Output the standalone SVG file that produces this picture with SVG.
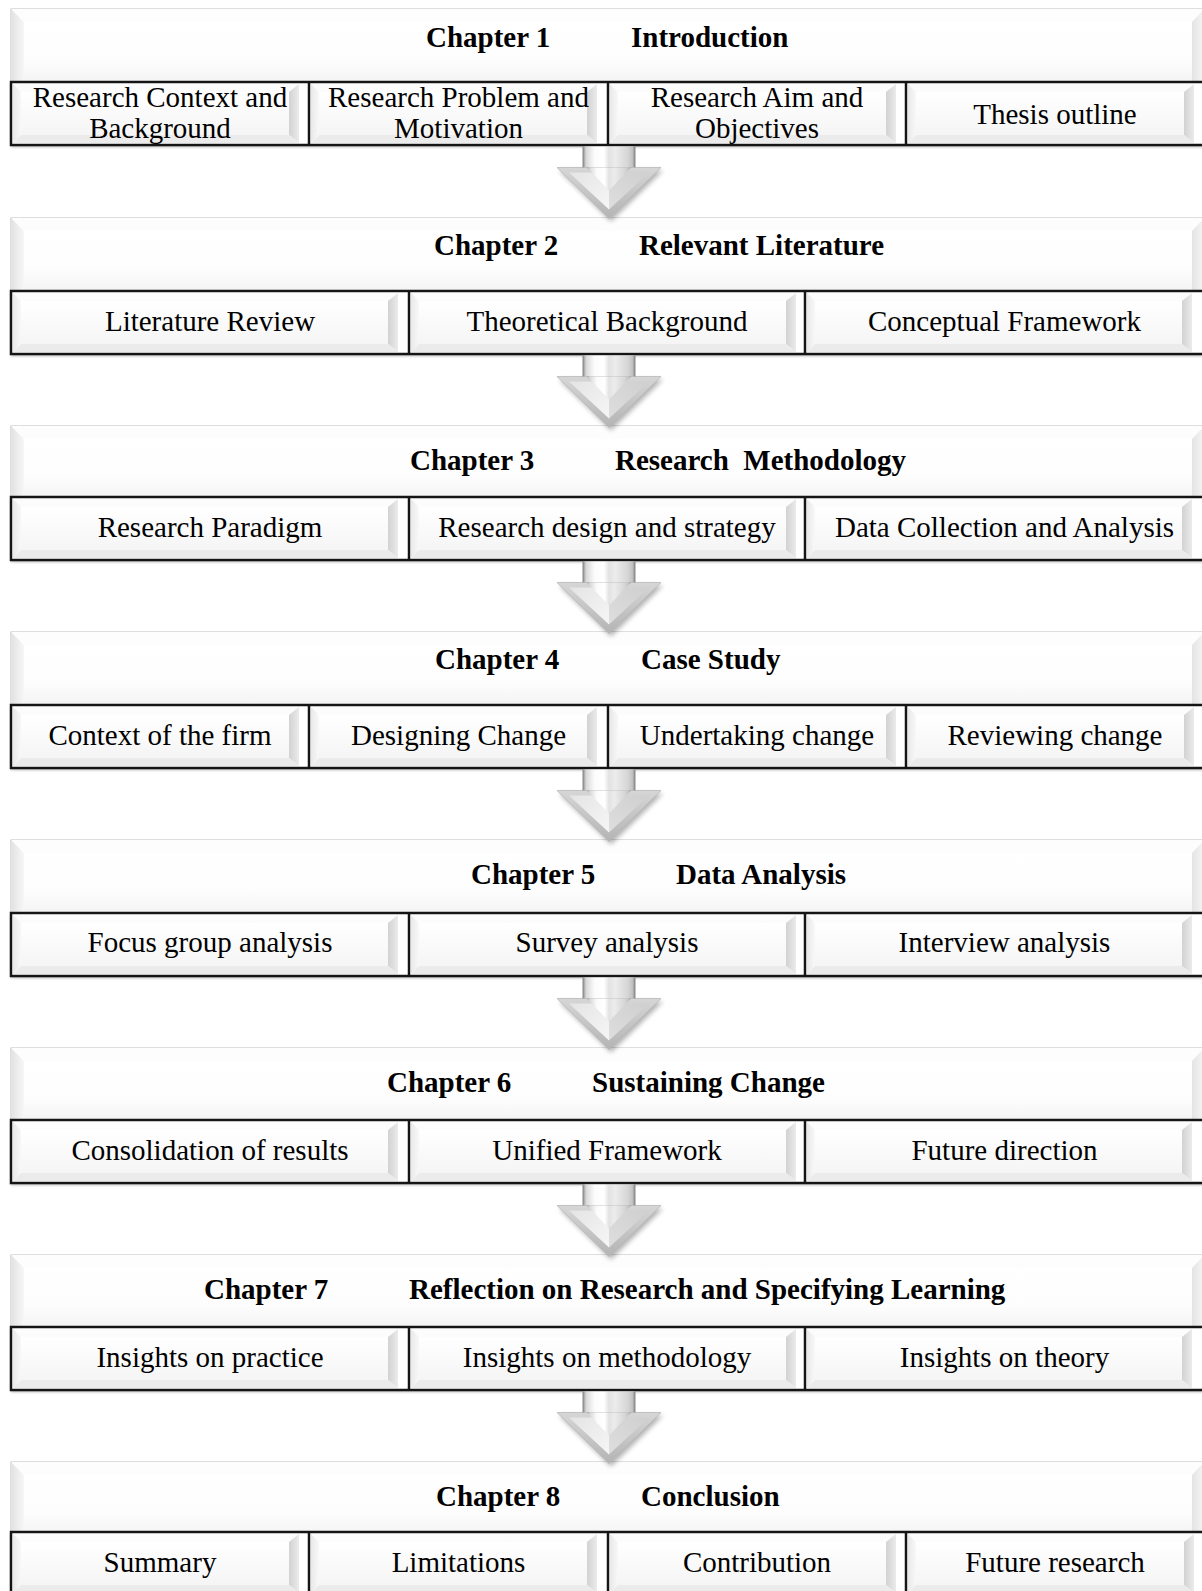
<svg xmlns="http://www.w3.org/2000/svg" xmlns:xlink="http://www.w3.org/1999/xlink" width="1202" height="1591" viewBox="0 0 1202 1591">
  <style>
    .h { font-family: "Liberation Serif", "Times New Roman", serif; font-size: 29px; font-weight: bold; fill: #000; }
    .s { font-family: "Liberation Serif", "Times New Roman", serif; font-size: 29px; fill: #000; text-anchor: middle; }
    .frame { fill: none; stroke: #151515; stroke-width: 2.5; }
    .div { stroke: #151515; stroke-width: 2.5; }
    .shadow { fill: #000; opacity: 0.3; filter: url(#blur); }
  </style>
  <defs>
    <filter id="blur" x="-5%" y="-30%" width="110%" height="160%">
      <feGaussianBlur stdDeviation="1.6"/>
    </filter>
    <filter id="blur3" x="-30%" y="-30%" width="160%" height="160%">
      <feGaussianBlur stdDeviation="2.5"/>
    </filter>
    <!-- header bevel shading -->
    <linearGradient id="hdrF" x1="0" y1="0" x2="0" y2="1">
      <stop offset="0" stop-color="#ffffff"/>
      <stop offset="0.55" stop-color="#fdfdfd"/>
      <stop offset="0.85" stop-color="#f4f4f4"/>
      <stop offset="1" stop-color="#f0f0f0"/>
    </linearGradient>
    <linearGradient id="hdrL" x1="0" y1="0" x2="1" y2="0">
      <stop offset="0" stop-color="#e2e2e2"/>
      <stop offset="1" stop-color="#f7f7f7"/>
    </linearGradient>
    <linearGradient id="hdrR" x1="0" y1="0" x2="1" y2="0">
      <stop offset="0" stop-color="#e4e4e4"/>
      <stop offset="1" stop-color="#f5f5f5"/>
    </linearGradient>
    <!-- cell bevel shading -->
    <linearGradient id="cellF" x1="0" y1="0" x2="0" y2="1">
      <stop offset="0" stop-color="#ffffff"/>
      <stop offset="1" stop-color="#f5f5f5"/>
    </linearGradient>
    <linearGradient id="cellL" x1="0" y1="0" x2="1" y2="0">
      <stop offset="0" stop-color="#e9e9e9"/>
      <stop offset="1" stop-color="#f8f8f8"/>
    </linearGradient>
    <linearGradient id="cellR" x1="0" y1="0" x2="1" y2="0">
      <stop offset="0" stop-color="#d2d2d2"/>
      <stop offset="1" stop-color="#ebebeb"/>
    </linearGradient>
    <!-- arrow shading -->
    <linearGradient id="shaftG" x1="0" y1="0" x2="1" y2="0">
      <stop offset="0" stop-color="#8e8e8e"/>
      <stop offset="0.06" stop-color="#d8d8d8"/>
      <stop offset="0.22" stop-color="#fbfbfb"/>
      <stop offset="0.4" stop-color="#ffffff"/>
      <stop offset="0.5" stop-color="#e2e2e2"/>
      <stop offset="0.62" stop-color="#ececec"/>
      <stop offset="0.86" stop-color="#d6d6d6"/>
      <stop offset="0.95" stop-color="#c2c2c2"/>
      <stop offset="1" stop-color="#8a8a8a"/>
    </linearGradient>
    <linearGradient id="headRim" x1="0" y1="0" x2="0" y2="1">
      <stop offset="0" stop-color="#d6d6d6"/>
      <stop offset="1" stop-color="#b4b4b4"/>
    </linearGradient>
    <linearGradient id="headL" x1="0" y1="0" x2="1" y2="1">
      <stop offset="0" stop-color="#e4e4e4"/>
      <stop offset="1" stop-color="#f6f6f6"/>
    </linearGradient>
    <linearGradient id="headR" x1="1" y1="0" x2="0" y2="1">
      <stop offset="0" stop-color="#cfcfcf"/>
      <stop offset="1" stop-color="#dedede"/>
    </linearGradient>

    <!-- bevelled chapter title band -->
    <g id="hdr">
      <rect x="11" y="0" width="1193" height="82" fill="#fff" stroke="#bdbdbd" stroke-width="1"/>
      <polygon points="11,0 1204,0 1192,13 24,13" fill="#fdfdfd"/>
      <polygon points="11,0 24,13 24,82 11,82" fill="url(#hdrL)"/>
      <polygon points="1204,0 1204,82 1192,82 1192,13" fill="url(#hdrR)"/>
      <rect x="24" y="13" width="1168" height="69" fill="url(#hdrF)"/>
    </g>
    <!-- bevelled cell, four per row -->
    <g id="cell4">
      <rect x="0" y="0" width="298" height="63" fill="#fff"/>
      <polygon points="2,2 288,2 278,10 10,10" fill="#fcfcfc"/>
      <polygon points="2,2 10,10 10,53 2,61" fill="url(#cellL)"/>
      <polygon points="288,2 288,61 278,53 278,10" fill="url(#cellR)"/>
      <polygon points="2,61 10,53 278,53 288,61" fill="#ebebeb"/>
      <rect x="10" y="10" width="268" height="43" fill="url(#cellF)"/>
    </g>
    <!-- bevelled cell, three per row -->
    <g id="cell3">
      <rect x="0" y="0" width="397" height="63" fill="#fff"/>
      <polygon points="2,2 387,2 377,10 10,10" fill="#fcfcfc"/>
      <polygon points="2,2 10,10 10,53 2,61" fill="url(#cellL)"/>
      <polygon points="387,2 387,61 377,53 377,10" fill="url(#cellR)"/>
      <polygon points="2,61 10,53 377,53 387,61" fill="#ebebeb"/>
      <rect x="10" y="10" width="367" height="43" fill="url(#cellF)"/>
    </g>
    <!-- bevelled down arrow, origin at top centre of shaft -->
    <g id="arrow">
      <polygon points="-50,24 54,24 2,75" fill="#000" opacity="0.3" filter="url(#blur3)"/>
      <rect x="-26" y="0" width="52" height="22" fill="url(#shaftG)"/>
      <polygon points="-52,21 52,21 0,72" fill="url(#headRim)" stroke="#b9b9b9" stroke-width="0.8"/>
      <polygon points="-40,26 0,26 0,63" fill="url(#headL)"/>
      <polygon points="0,26 40,26 0,63" fill="url(#headR)"/>
      <polygon points="-22,21 22,21 0,44" fill="url(#shaftG)"/>
      <line x1="-26" y1="0" x2="-26" y2="21" stroke="#8a8a8a" stroke-width="1"/>
      <line x1="26" y1="0" x2="26" y2="21" stroke="#8a8a8a" stroke-width="1"/>
    </g>
  </defs>

  <rect width="1202" height="1591" fill="#fff"/>

  <!-- Chapter 1 -->
  <g id="chapter1">
    <use href="#hdr" y="9"/>
    <text class="h" x="426" y="46.5">Chapter 1</text>
    <text class="h" x="631" y="46.5">Introduction</text>
    <rect class="shadow" x="11" y="84" width="1193" height="63"/>
    <g id="ch1-context"><use href="#cell4" x="11" y="82"/><text class="s" x="160" y="107">Research Context and</text><text class="s" x="160" y="138">Background</text></g>
    <g id="ch1-problem"><use href="#cell4" x="309" y="82"/><text class="s" x="458.5" y="107">Research Problem and</text><text class="s" x="458.5" y="138">Motivation</text></g>
    <g id="ch1-aim"><use href="#cell4" x="608" y="82"/><text class="s" x="757" y="107">Research Aim and</text><text class="s" x="757" y="138">Objectives</text></g>
    <g id="ch1-outline"><use href="#cell4" x="906" y="82"/><text class="s" x="1055" y="123.5">Thesis outline</text></g>
    <rect class="frame" x="11" y="82" width="1193" height="63"/>
    <line class="div" x1="309" y1="82" x2="309" y2="145"/>
    <line class="div" x1="608" y1="82" x2="608" y2="145"/>
    <line class="div" x1="906" y1="82" x2="906" y2="145"/>
  </g>

  <!-- Chapter 2 -->
  <g id="chapter2">
    <use href="#hdr" y="218"/>
    <text class="h" x="434" y="254.5">Chapter 2</text>
    <text class="h" x="639" y="254.5">Relevant Literature</text>
    <rect class="shadow" x="11" y="293" width="1193" height="63"/>
    <g id="ch2-review"><use href="#cell3" x="11" y="291"/><text class="s" x="210" y="331">Literature Review</text></g>
    <g id="ch2-theory"><use href="#cell3" x="409" y="291"/><text class="s" x="607" y="331">Theoretical Background</text></g>
    <g id="ch2-framework"><use href="#cell3" x="805" y="291"/><text class="s" x="1004.5" y="331">Conceptual Framework</text></g>
    <rect class="frame" x="11" y="291" width="1193" height="63"/>
    <line class="div" x1="409" y1="291" x2="409" y2="354"/>
    <line class="div" x1="805" y1="291" x2="805" y2="354"/>
  </g>

  <!-- Chapter 3 -->
  <g id="chapter3">
    <use href="#hdr" y="426"/>
    <text class="h" x="410" y="469.5">Chapter 3</text>
    <text class="h" x="615" y="469.5" xml:space="preserve">Research  Methodology</text>
    <rect class="shadow" x="11" y="499" width="1193" height="63"/>
    <g id="ch3-paradigm"><use href="#cell3" x="11" y="497"/><text class="s" x="210" y="537">Research Paradigm</text></g>
    <g id="ch3-design"><use href="#cell3" x="409" y="497"/><text class="s" x="607" y="537">Research design and strategy</text></g>
    <g id="ch3-data"><use href="#cell3" x="805" y="497"/><text class="s" x="1004.5" y="537">Data Collection and Analysis</text></g>
    <rect class="frame" x="11" y="497" width="1193" height="63"/>
    <line class="div" x1="409" y1="497" x2="409" y2="560"/>
    <line class="div" x1="805" y1="497" x2="805" y2="560"/>
  </g>

  <!-- Chapter 4 -->
  <g id="chapter4">
    <use href="#hdr" y="632"/>
    <text class="h" x="435" y="669">Chapter 4</text>
    <text class="h" x="641" y="669">Case Study</text>
    <rect class="shadow" x="11" y="707" width="1193" height="63"/>
    <g id="ch4-context"><use href="#cell4" x="11" y="705"/><text class="s" x="160" y="745">Context of the firm</text></g>
    <g id="ch4-designing"><use href="#cell4" x="309" y="705"/><text class="s" x="458.5" y="745">Designing Change</text></g>
    <g id="ch4-undertaking"><use href="#cell4" x="608" y="705"/><text class="s" x="757" y="745">Undertaking change</text></g>
    <g id="ch4-reviewing"><use href="#cell4" x="906" y="705"/><text class="s" x="1055" y="745">Reviewing change</text></g>
    <rect class="frame" x="11" y="705" width="1193" height="63"/>
    <line class="div" x1="309" y1="705" x2="309" y2="768"/>
    <line class="div" x1="608" y1="705" x2="608" y2="768"/>
    <line class="div" x1="906" y1="705" x2="906" y2="768"/>
  </g>

  <!-- Chapter 5 -->
  <g id="chapter5">
    <use href="#hdr" y="840"/>
    <text class="h" x="471" y="884">Chapter 5</text>
    <text class="h" x="676" y="884">Data Analysis</text>
    <rect class="shadow" x="11" y="915" width="1193" height="63"/>
    <g id="ch5-focus"><use href="#cell3" x="11" y="913"/><text class="s" x="210" y="952">Focus group analysis</text></g>
    <g id="ch5-survey"><use href="#cell3" x="409" y="913"/><text class="s" x="607" y="952">Survey analysis</text></g>
    <g id="ch5-interview"><use href="#cell3" x="805" y="913"/><text class="s" x="1004.5" y="952">Interview analysis</text></g>
    <rect class="frame" x="11" y="913" width="1193" height="63"/>
    <line class="div" x1="409" y1="913" x2="409" y2="976"/>
    <line class="div" x1="805" y1="913" x2="805" y2="976"/>
  </g>

  <!-- Chapter 6 -->
  <g id="chapter6">
    <use href="#hdr" y="1048"/>
    <text class="h" x="387" y="1092">Chapter 6</text>
    <text class="h" x="592" y="1092">Sustaining Change</text>
    <rect class="shadow" x="11" y="1122" width="1193" height="63"/>
    <g id="ch6-consolidation"><use href="#cell3" x="11" y="1120"/><text class="s" x="210" y="1160">Consolidation of results</text></g>
    <g id="ch6-unified"><use href="#cell3" x="409" y="1120"/><text class="s" x="607" y="1160">Unified Framework</text></g>
    <g id="ch6-future"><use href="#cell3" x="805" y="1120"/><text class="s" x="1004.5" y="1160">Future direction</text></g>
    <rect class="frame" x="11" y="1120" width="1193" height="63"/>
    <line class="div" x1="409" y1="1120" x2="409" y2="1183"/>
    <line class="div" x1="805" y1="1120" x2="805" y2="1183"/>
  </g>

  <!-- Chapter 7 -->
  <g id="chapter7">
    <use href="#hdr" y="1255"/>
    <text class="h" x="204" y="1299">Chapter 7</text>
    <text class="h" x="409" y="1299">Reflection on Research and Specifying Learning</text>
    <rect class="shadow" x="11" y="1329" width="1193" height="63"/>
    <g id="ch7-practice"><use href="#cell3" x="11" y="1327"/><text class="s" x="210" y="1367">Insights on practice</text></g>
    <g id="ch7-methodology"><use href="#cell3" x="409" y="1327"/><text class="s" x="607" y="1367">Insights on methodology</text></g>
    <g id="ch7-theory"><use href="#cell3" x="805" y="1327"/><text class="s" x="1004.5" y="1367">Insights on theory</text></g>
    <rect class="frame" x="11" y="1327" width="1193" height="63"/>
    <line class="div" x1="409" y1="1327" x2="409" y2="1390"/>
    <line class="div" x1="805" y1="1327" x2="805" y2="1390"/>
  </g>

  <!-- Chapter 8 -->
  <g id="chapter8">
    <use href="#hdr" y="1462"/>
    <text class="h" x="436" y="1506">Chapter 8</text>
    <text class="h" x="641" y="1506">Conclusion</text>
    <rect class="shadow" x="11" y="1534" width="1193" height="63"/>
    <g id="ch8-summary"><use href="#cell4" x="11" y="1532"/><text class="s" x="160" y="1572">Summary</text></g>
    <g id="ch8-limitations"><use href="#cell4" x="309" y="1532"/><text class="s" x="458.5" y="1572">Limitations</text></g>
    <g id="ch8-contribution"><use href="#cell4" x="608" y="1532"/><text class="s" x="757" y="1572">Contribution</text></g>
    <g id="ch8-future"><use href="#cell4" x="906" y="1532"/><text class="s" x="1055" y="1572">Future research</text></g>
    <rect class="frame" x="11" y="1532" width="1193" height="63"/>
    <line class="div" x1="309" y1="1532" x2="309" y2="1595"/>
    <line class="div" x1="608" y1="1532" x2="608" y2="1595"/>
    <line class="div" x1="906" y1="1532" x2="906" y2="1595"/>
  </g>

  <!-- down arrows between chapters -->
  <g id="connectors">
    <use href="#arrow" x="609" y="146.5"/>
    <use href="#arrow" x="609" y="355.5"/>
    <use href="#arrow" x="609" y="561.5"/>
    <use href="#arrow" x="609" y="769.5"/>
    <use href="#arrow" x="609" y="977.5"/>
    <use href="#arrow" x="609" y="1184.5"/>
    <use href="#arrow" x="609" y="1391.5"/>
  </g>
</svg>
